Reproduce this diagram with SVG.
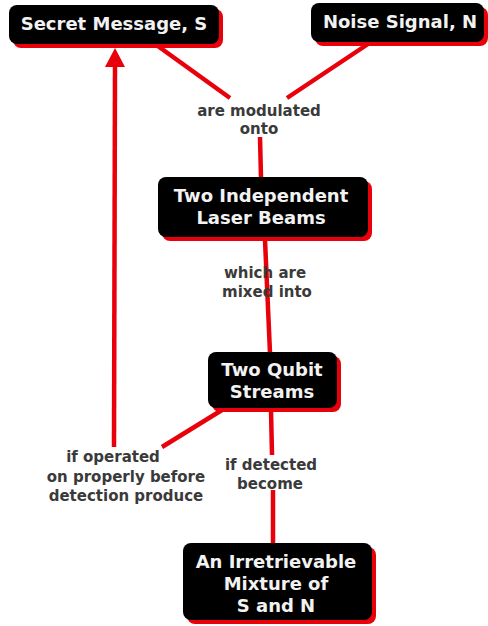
<svg xmlns="http://www.w3.org/2000/svg" width="488" height="626" viewBox="0 0 488 626">
  <style>
    .shadow { fill: #e8000b; }
    .box { fill: #000000; }
    .ntext { font-family: "DejaVu Sans", Verdana, sans-serif; font-weight: bold; font-size: 18px; fill: #f2f2f2; text-anchor: middle; }
    .ltext { font-family: "DejaVu Sans", Verdana, sans-serif; font-weight: bold; font-size: 15px; fill: #3a3a3a; text-anchor: middle; }
    .link { stroke: #e8000b; stroke-width: 4.5; fill: none; stroke-linecap: butt; }
  </style>
  <defs>
    <!-- arrowhead base sits on the path end, tip points onward -->
    <marker id="arrow" markerUnits="userSpaceOnUse" markerWidth="20" markerHeight="22" refX="0" refY="10" orient="auto" overflow="visible">
      <polygon points="-1,0 18,10 -1,20" fill="#e8000b"/>
    </marker>
  </defs>
  <rect width="488" height="626" fill="#ffffff"/>

  <g id="connectors">
    <path class="link" d="M155,44 L230,98"/>
    <path class="link" d="M368,44 L287,98"/>
    <path class="link" d="M260,137 L261,178"/>
    <path class="link" d="M265,240 L270,353"/>
    <path class="link" d="M271,410 L272,455"/>
    <path class="link" d="M273,490 L273,544"/>
    <path class="link" d="M222,410 L162,447"/>
    <path class="link" d="M114,447 L115,66" marker-end="url(#arrow)"/>
  </g>

  <g id="lbl-modulated">
    <text class="ltext" x="259" y="116">are modulated</text>
    <text class="ltext" x="259" y="134">onto</text>
  </g>
  <g id="lbl-mixed">
    <text class="ltext" x="265" y="278">which are</text>
    <text class="ltext" x="267" y="297">mixed into</text>
  </g>
  <g id="lbl-operated">
    <text class="ltext" x="113" y="462">if operated</text>
    <text class="ltext" x="126" y="482">on properly before</text>
    <text class="ltext" x="126" y="501">detection produce</text>
  </g>
  <g id="lbl-detected">
    <text class="ltext" x="271" y="470">if detected</text>
    <text class="ltext" x="270" y="489">become</text>
  </g>

  <g id="node-secret">
    <rect class="shadow" x="13" y="9" width="210" height="39" rx="8"/>
    <rect class="box" x="9" y="5" width="210" height="39" rx="8"/>
    <text class="ntext" x="114" y="30">Secret Message, S</text>
  </g>
  <g id="node-noise">
    <rect class="shadow" x="315" y="7" width="173" height="39" rx="8"/>
    <rect class="box" x="311" y="3" width="173" height="39" rx="8"/>
    <text class="ntext" x="400" y="28">Noise Signal, N</text>
  </g>
  <g id="node-lasers">
    <rect class="shadow" x="162" y="181" width="210" height="60" rx="8"/>
    <rect class="box" x="158" y="177" width="210" height="60" rx="8"/>
    <text class="ntext" x="261" y="202">Two Independent</text>
    <text class="ntext" x="261" y="224">Laser Beams</text>
  </g>
  <g id="node-qubits">
    <rect class="shadow" x="212" y="356" width="129" height="56" rx="8"/>
    <rect class="box" x="208" y="352" width="129" height="56" rx="8"/>
    <text class="ntext" x="272" y="376">Two Qubit</text>
    <text class="ntext" x="272" y="398">Streams</text>
  </g>
  <g id="node-mixture">
    <rect class="shadow" x="187" y="547" width="189" height="77" rx="8"/>
    <rect class="box" x="183" y="543" width="189" height="77" rx="8"/>
    <text class="ntext" x="276" y="568">An Irretrievable</text>
    <text class="ntext" x="276" y="590">Mixture of</text>
    <text class="ntext" x="276" y="612">S and N</text>
  </g>
</svg>
